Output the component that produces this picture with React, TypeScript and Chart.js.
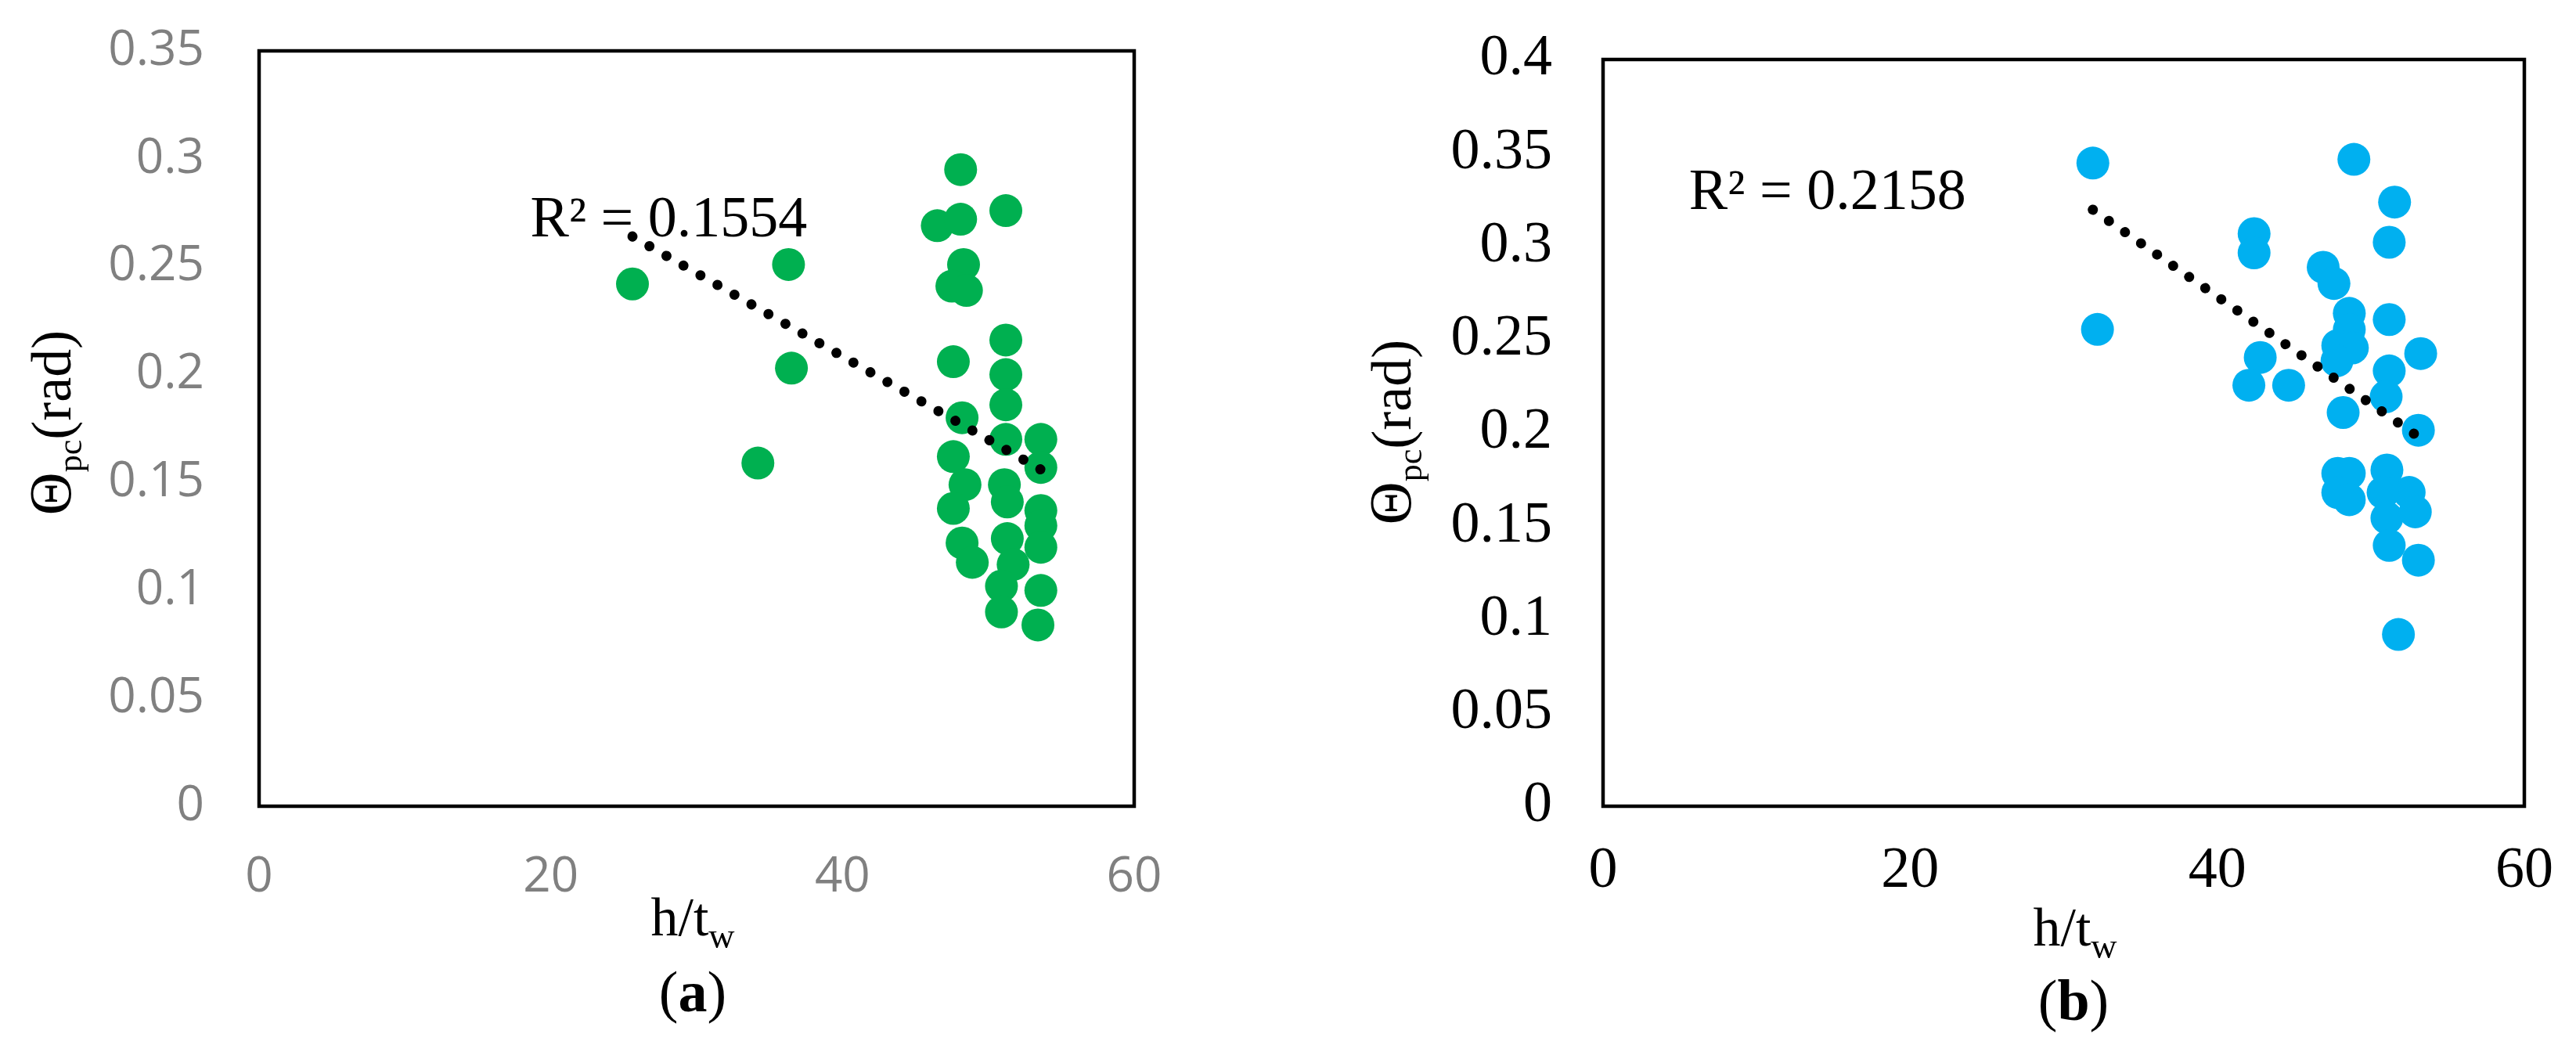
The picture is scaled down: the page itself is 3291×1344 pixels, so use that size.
import React, { useEffect, useRef } from "react";
import { Chart, registerables } from "chart.js";

Chart.register(...registerables);

// ---------- data ----------
const xTickStep = 20;
const xMax = 60;
const yTickStep = 0.05;

// Panel (a) – green
const aX = [25.6, 34.2, 36.3, 36.5, 46.5, 48.1, 48.1, 48.3, 47.5, 48.5, 47.6, 48.2, 47.6, 48.4, 47.6, 48.2, 48.9,
  51.2, 51.2, 51.2, 51.2, 51.2, 51.1, 51.3, 51.3, 51.7, 50.9, 50.9,
  53.6, 53.6, 53.6, 53.6, 53.6, 53.6, 53.4];
const aY = [0.242, 0.159, 0.251, 0.203, 0.269, 0.295, 0.272, 0.251, 0.241, 0.239, 0.206, 0.180, 0.162, 0.149, 0.138, 0.122, 0.113,
  0.276, 0.216, 0.200, 0.186, 0.170, 0.149, 0.141, 0.124, 0.112, 0.102, 0.090,
  0.170, 0.157, 0.137, 0.130, 0.120, 0.100, 0.084];
const aTrendX = [25.6, 53.6];
const aTrendY = [0.264, 0.156];
const aR2 = "R² = 0.1554";
const aYMax = 0.35;

// Panel (b) – blue
const bX = [31.9, 32.2, 48.9, 51.55, 51.2, 42.4, 42.4, 46.9, 47.6, 48.6, 48.6, 47.85, 48.8, 47.8, 51.2, 53.25, 42.8,
  42.06, 44.65, 51.2, 51.0, 48.2, 53.1, 47.85, 48.6, 47.85, 48.6, 51.05, 50.8, 52.5, 52.9, 51.05, 51.2, 53.1, 51.8];
const bY = [0.3445, 0.2554, 0.3465, 0.3236, 0.3021, 0.3067, 0.2964, 0.2887, 0.280, 0.264, 0.2553, 0.2468, 0.2455, 0.2386, 0.2607, 0.2425, 0.2404,
  0.2255, 0.2255, 0.2332, 0.2194, 0.2109, 0.2014, 0.1783, 0.1783, 0.1680, 0.1642, 0.1801, 0.168, 0.1681, 0.1577, 0.1544, 0.1397, 0.1318, 0.092];
const bTrendX = [31.9, 53.25];
const bTrendY = [0.3195, 0.197];
const bR2 = "R² = 0.2158";
const bYMax = 0.4;

const SERIF = "'Liberation Serif', 'Times New Roman', serif";
const SANS = "'Open Sans', 'Liberation Sans', sans-serif";
const H = 1344;

type Panel = {
  xs: number[]; ys: number[]; tx: number[]; ty: number[]; r2: string; yMax: number;
  color: string; canvasW: number; offsetX: number;
  areaLeft: number; areaRight: number; areaTop: number; areaBottom: number;
  tickFont: string; tickSize: number; tickColor: string; yPad: number; xPad: number;
  r2X: number; r2Y: number;
  yTitleX: number; yTitleCy: number; xTitleCx: number; xTitleBase: number;
  label: string; labelCx: number; labelBase: number;
};

const panelA: Panel = {
  xs: aX, ys: aY, tx: aTrendX, ty: aTrendY, r2: aR2, yMax: aYMax,
  color: "#00B050", canvasW: 1640, offsetX: 0,
  areaLeft: 331, areaRight: 1449, areaTop: 65, areaBottom: 1030,
  tickFont: SANS, tickSize: 62, tickColor: "#808080", yPad: 70, xPad: 54,
  r2X: 18.6, r2Y: 0.264,
  yTitleX: 90, yTitleCy: 540, xTitleCx: 885, xTitleBase: 1195,
  label: "a", labelCx: 885, labelBase: 1292,
};

const panelB: Panel = {
  xs: bX, ys: bY, tx: bTrendX, ty: bTrendY, r2: bR2, yMax: bYMax,
  color: "#00B0F0", canvasW: 1651, offsetX: 1640,
  areaLeft: 2048, areaRight: 3225, areaTop: 76, areaBottom: 1030,
  tickFont: SERIF, tickSize: 74, tickColor: "#000000", yPad: 65, xPad: 39,
  r2X: 5.6, r2Y: 0.320,
  yTitleX: 1802, yTitleCy: 552, xTitleCx: 2651, xTitleBase: 1208,
  label: "b", labelCx: 2649, labelBase: 1303,
};

type Seg = { text: string; font: string; dy: number };

function drawSegs(ctx: CanvasRenderingContext2D, segs: Seg[], cx: number, y: number) {
  let total = 0;
  const widths = segs.map((s) => {
    ctx.font = s.font;
    const w = ctx.measureText(s.text).width;
    total += w;
    return w;
  });
  let cur = cx - total / 2;
  segs.forEach((s, i) => {
    ctx.font = s.font;
    ctx.fillText(s.text, cur, y + s.dy);
    cur += widths[i];
  });
}

type Adj = { axisW: number; axisH: number; pad: { left: number; top: number; right: number; bottom: number } };

function buildConfig(p: Panel, adj: Adj): any {
  const annot = {
    id: "annot" + p.label,
    afterDraw(chart: any) {
      const ctx: CanvasRenderingContext2D = chart.ctx;
      const a = chart.chartArea;
      ctx.save();
      ctx.strokeStyle = "#000";
      ctx.lineWidth = 4.5;
      ctx.strokeRect(a.left, a.top, a.right - a.left, a.bottom - a.top);
      ctx.fillStyle = "#000";
      ctx.textAlign = "left";
      ctx.textBaseline = "alphabetic";
      const xs = chart.scales.x;
      const ys = chart.scales.y;
      ctx.font = `74px ${SERIF}`;
      ctx.fillText(p.r2, xs.getPixelForValue(p.r2X), ys.getPixelForValue(p.r2Y));
      drawSegs(ctx, [
        { text: "h/t", font: `70px ${SERIF}`, dy: 0 },
        { text: "w", font: `46px ${SERIF}`, dy: 16 },
      ], p.xTitleCx - p.offsetX, p.xTitleBase);
      drawSegs(ctx, [
        { text: "(", font: `74px ${SERIF}`, dy: 0 },
        { text: p.label, font: `bold 74px ${SERIF}`, dy: 0 },
        { text: ")", font: `74px ${SERIF}`, dy: 0 },
      ], p.labelCx - p.offsetX, p.labelBase);
      ctx.translate(p.yTitleX - p.offsetX, p.yTitleCy);
      ctx.rotate(-Math.PI / 2);
      drawSegs(ctx, [
        { text: "Θ", font: `76px ${SERIF}`, dy: 0 },
        { text: "pc", font: `44px ${SERIF}`, dy: 14 },
        { text: "(rad)", font: `72px ${SERIF}`, dy: 0 },
      ], 0, 0);
      ctx.restore();
    },
  };

  return {
    type: "scatter",
    data: {
      datasets: [
        {
          type: "line",
          data: p.tx.map((x, i) => ({ x, y: p.ty[i] })),
          borderColor: "#000",
          borderWidth: 13,
          borderDash: [0.001, 25],
          borderCapStyle: "round",
          pointRadius: 0,
          fill: false,
          tension: 0,
          order: 0,
        },
        {
          type: "scatter",
          data: p.xs.map((x, i) => ({ x, y: p.ys[i] })),
          backgroundColor: p.color,
          borderColor: p.color,
          pointRadius: 21,
          pointHoverRadius: 21,
          pointBorderWidth: 0,
          order: 1,
        },
      ],
    },
    options: {
      responsive: false,
      animation: false,
      devicePixelRatio: 1,
      events: [],
      layout: {
        autoPadding: false,
        padding: adj.pad,
      },
      plugins: { legend: { display: false }, tooltip: { enabled: false }, title: { display: false } },
      scales: {
        x: {
          type: "linear",
          min: 0,
          max: xMax,
          grid: { display: false, drawTicks: false },
          border: { display: false },
          ticks: {
            stepSize: xTickStep,
            autoSkip: false,
            maxRotation: 0,
            padding: p.xPad,
            color: p.tickColor,
            font: { family: p.tickFont, size: p.tickSize },
          },
          afterFit: (s: any) => {
            s.height = adj.axisH;
            s.paddingLeft = 0;
            s.paddingRight = 0;
          },
        },
        y: {
          type: "linear",
          min: 0,
          max: p.yMax,
          grid: { display: false, drawTicks: false },
          border: { display: false },
          ticks: {
            stepSize: yTickStep,
            autoSkip: false,
            padding: p.yPad,
            color: p.tickColor,
            font: { family: p.tickFont, size: p.tickSize },
            callback: (v: any) => String(parseFloat(Number(v).toFixed(2))),
          },
          afterFit: (s: any) => {
            s.width = adj.axisW;
            s.paddingTop = 0;
            s.paddingBottom = 0;
          },
        },
      },
    },
    plugins: [annot],
  };
}

// Nudge layout so the plot area lands exactly where the reference frame is.
function makeChart(canvas: HTMLCanvasElement, p: Panel): Chart {
  const tl = p.areaLeft - p.offsetX;
  const tr = p.areaRight - p.offsetX;
  const adj: Adj = {
    axisW: tl,
    axisH: H - p.areaBottom,
    pad: { left: 0, top: p.areaTop, right: p.canvasW - tr, bottom: 0 },
  };
  const cfg = buildConfig(p, adj);
  const chart: any = new Chart(canvas, cfg);
  for (let k = 0; k < 5; k++) {
    const a = chart.chartArea;
    const dT = p.areaTop - a.top;
    const dB = p.areaBottom - a.bottom;
    const dL = tl - a.left;
    const dR = tr - a.right;
    if (Math.abs(dT) < 0.5 && Math.abs(dB) < 0.5 && Math.abs(dL) < 0.5 && Math.abs(dR) < 0.5) break;
    const pad = cfg.options.layout.padding;
    pad.top = pad.top + dT;
    pad.right = Math.max(0, pad.right - dR);
    adj.axisH = adj.axisH - dB;
    adj.axisW = adj.axisW + dL;
    chart.update();
  }
  return chart;
}

export default function App() {
  const leftRef = useRef<HTMLCanvasElement>(null);
  const rightRef = useRef<HTMLCanvasElement>(null);

  useEffect(() => {
    const c1 = makeChart(leftRef.current as HTMLCanvasElement, panelA);
    const c2 = makeChart(rightRef.current as HTMLCanvasElement, panelB);
    return () => {
      c1.destroy();
      c2.destroy();
    };
  }, []);

  return (
    <div style={{ position: "absolute", left: 0, top: 0, width: 3291, height: 1344, background: "#fff" }}>
      <canvas
        ref={leftRef}
        width={1640}
        height={1344}
        style={{ position: "absolute", left: 0, top: 0, width: 1640, height: 1344 }}
      />
      <canvas
        ref={rightRef}
        width={1651}
        height={1344}
        style={{ position: "absolute", left: 1640, top: 0, width: 1651, height: 1344 }}
      />
    </div>
  );
}
